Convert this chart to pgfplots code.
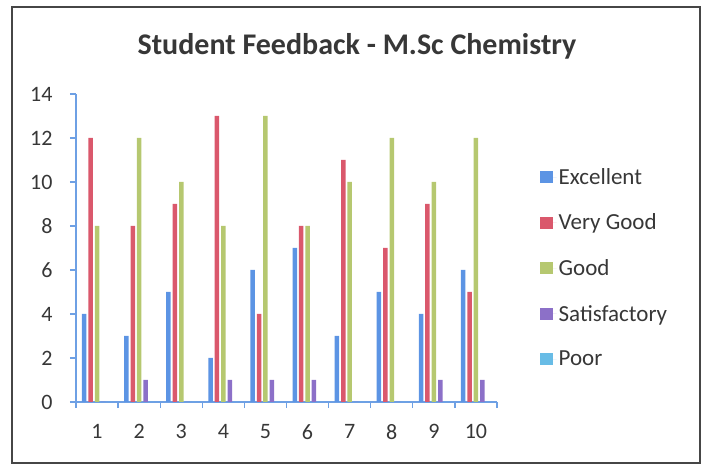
\documentclass[border=0pt]{standalone}
\usepackage{fontspec}
\setmainfont{Carlito}
\usepackage{pgfplots}
\usepackage{pgfplotstable}
\pgfplotsset{compat=1.18}
\definecolor{cblue}{RGB}{92,148,228}
\definecolor{cred}{RGB}{218,88,108}
\definecolor{cgreen}{RGB}{182,200,112}
\definecolor{cpurple}{RGB}{140,112,200}
\definecolor{caqua}{RGB}{104,188,230}
\definecolor{axiscol}{RGB}{110,160,228}
\definecolor{framec}{RGB}{70,70,70}
\definecolor{textc}{RGB}{55,55,55}

\pgfplotstableread{
cat ex vg gd sat poor
1  4 12  8 0 0
2  3  8 12 1 0
3  5  9 10 0 0
4  2 13  8 1 0
5  6  4 13 1 0
6  7  8  8 1 0
7  3 11 10 0 0
8  5  7 12 0 0
9  4  9 10 1 0
10 6  5 12 1 0
}\feedback

\pgfplotsset{sq legend/.style={legend image code/.code={%
  \fill[##1] (0pt,-6pt) rectangle (12.5pt,6pt);
  \path (0pt,0pt) -- (16.5pt,0pt);}}}

\begin{document}
\begin{tikzpicture}
\path[use as bounding box] (0pt,0pt) rectangle (710pt,466pt);
\draw[line width=2pt, framec] (12pt,3pt) rectangle (700pt,459pt);
\node[font=\fontsize{30}{34}\selectfont\bfseries, text=textc, anchor=base] at (357pt,411pt) {Student Feedback - M.Sc Chemistry};
\begin{axis}[
  at={(76pt,64pt)}, anchor=south west,
  scale only axis, width=421pt, height=308pt,
  xmin=0.5, xmax=10.5, ymin=0, ymax=14,
  axis lines*=left,
  axis line style={axiscol, line width=1.3pt},
  ybar=1.9pt, bar width=4.5pt,
  xtick={1,...,10},
  minor xtick={0.5,1.5,...,10.5},
  ytick={0,2,...,14},
  tick align=outside,
  major x tick style={draw=none},
  every tick/.style={axiscol, line width=1.3pt},
  major tick length=6pt, minor tick length=6pt,
  /pgf/number format/assume math mode=true,
  ticklabel style={font=\fontsize{22}{26}\selectfont, text=textc},
  yticklabel style={xshift=-14pt},
  xticklabel style={yshift=-13pt},
  legend style={at={(1.102,0.436)}, anchor=west, draw=none, fill=none,
    font=\fontsize{23}{27}\selectfont, text=textc, row sep=24.2pt,
    inner sep=0pt},
  legend cell align=left,
]
\addplot[fill=cblue, draw=none, sq legend] table[x=cat, y=ex] {\feedback};
\addplot[fill=cred, draw=none, sq legend] table[x=cat, y=vg] {\feedback};
\addplot[fill=cgreen, draw=none, sq legend] table[x=cat, y=gd] {\feedback};
\addplot[fill=cpurple, draw=none, sq legend] table[x=cat, y=sat] {\feedback};
\addplot[fill=caqua, draw=none, sq legend] table[x=cat, y=poor] {\feedback};
\legend{Excellent, Very Good, Good, Satisfactory, Poor}
\end{axis}
\end{tikzpicture}
\end{document}
